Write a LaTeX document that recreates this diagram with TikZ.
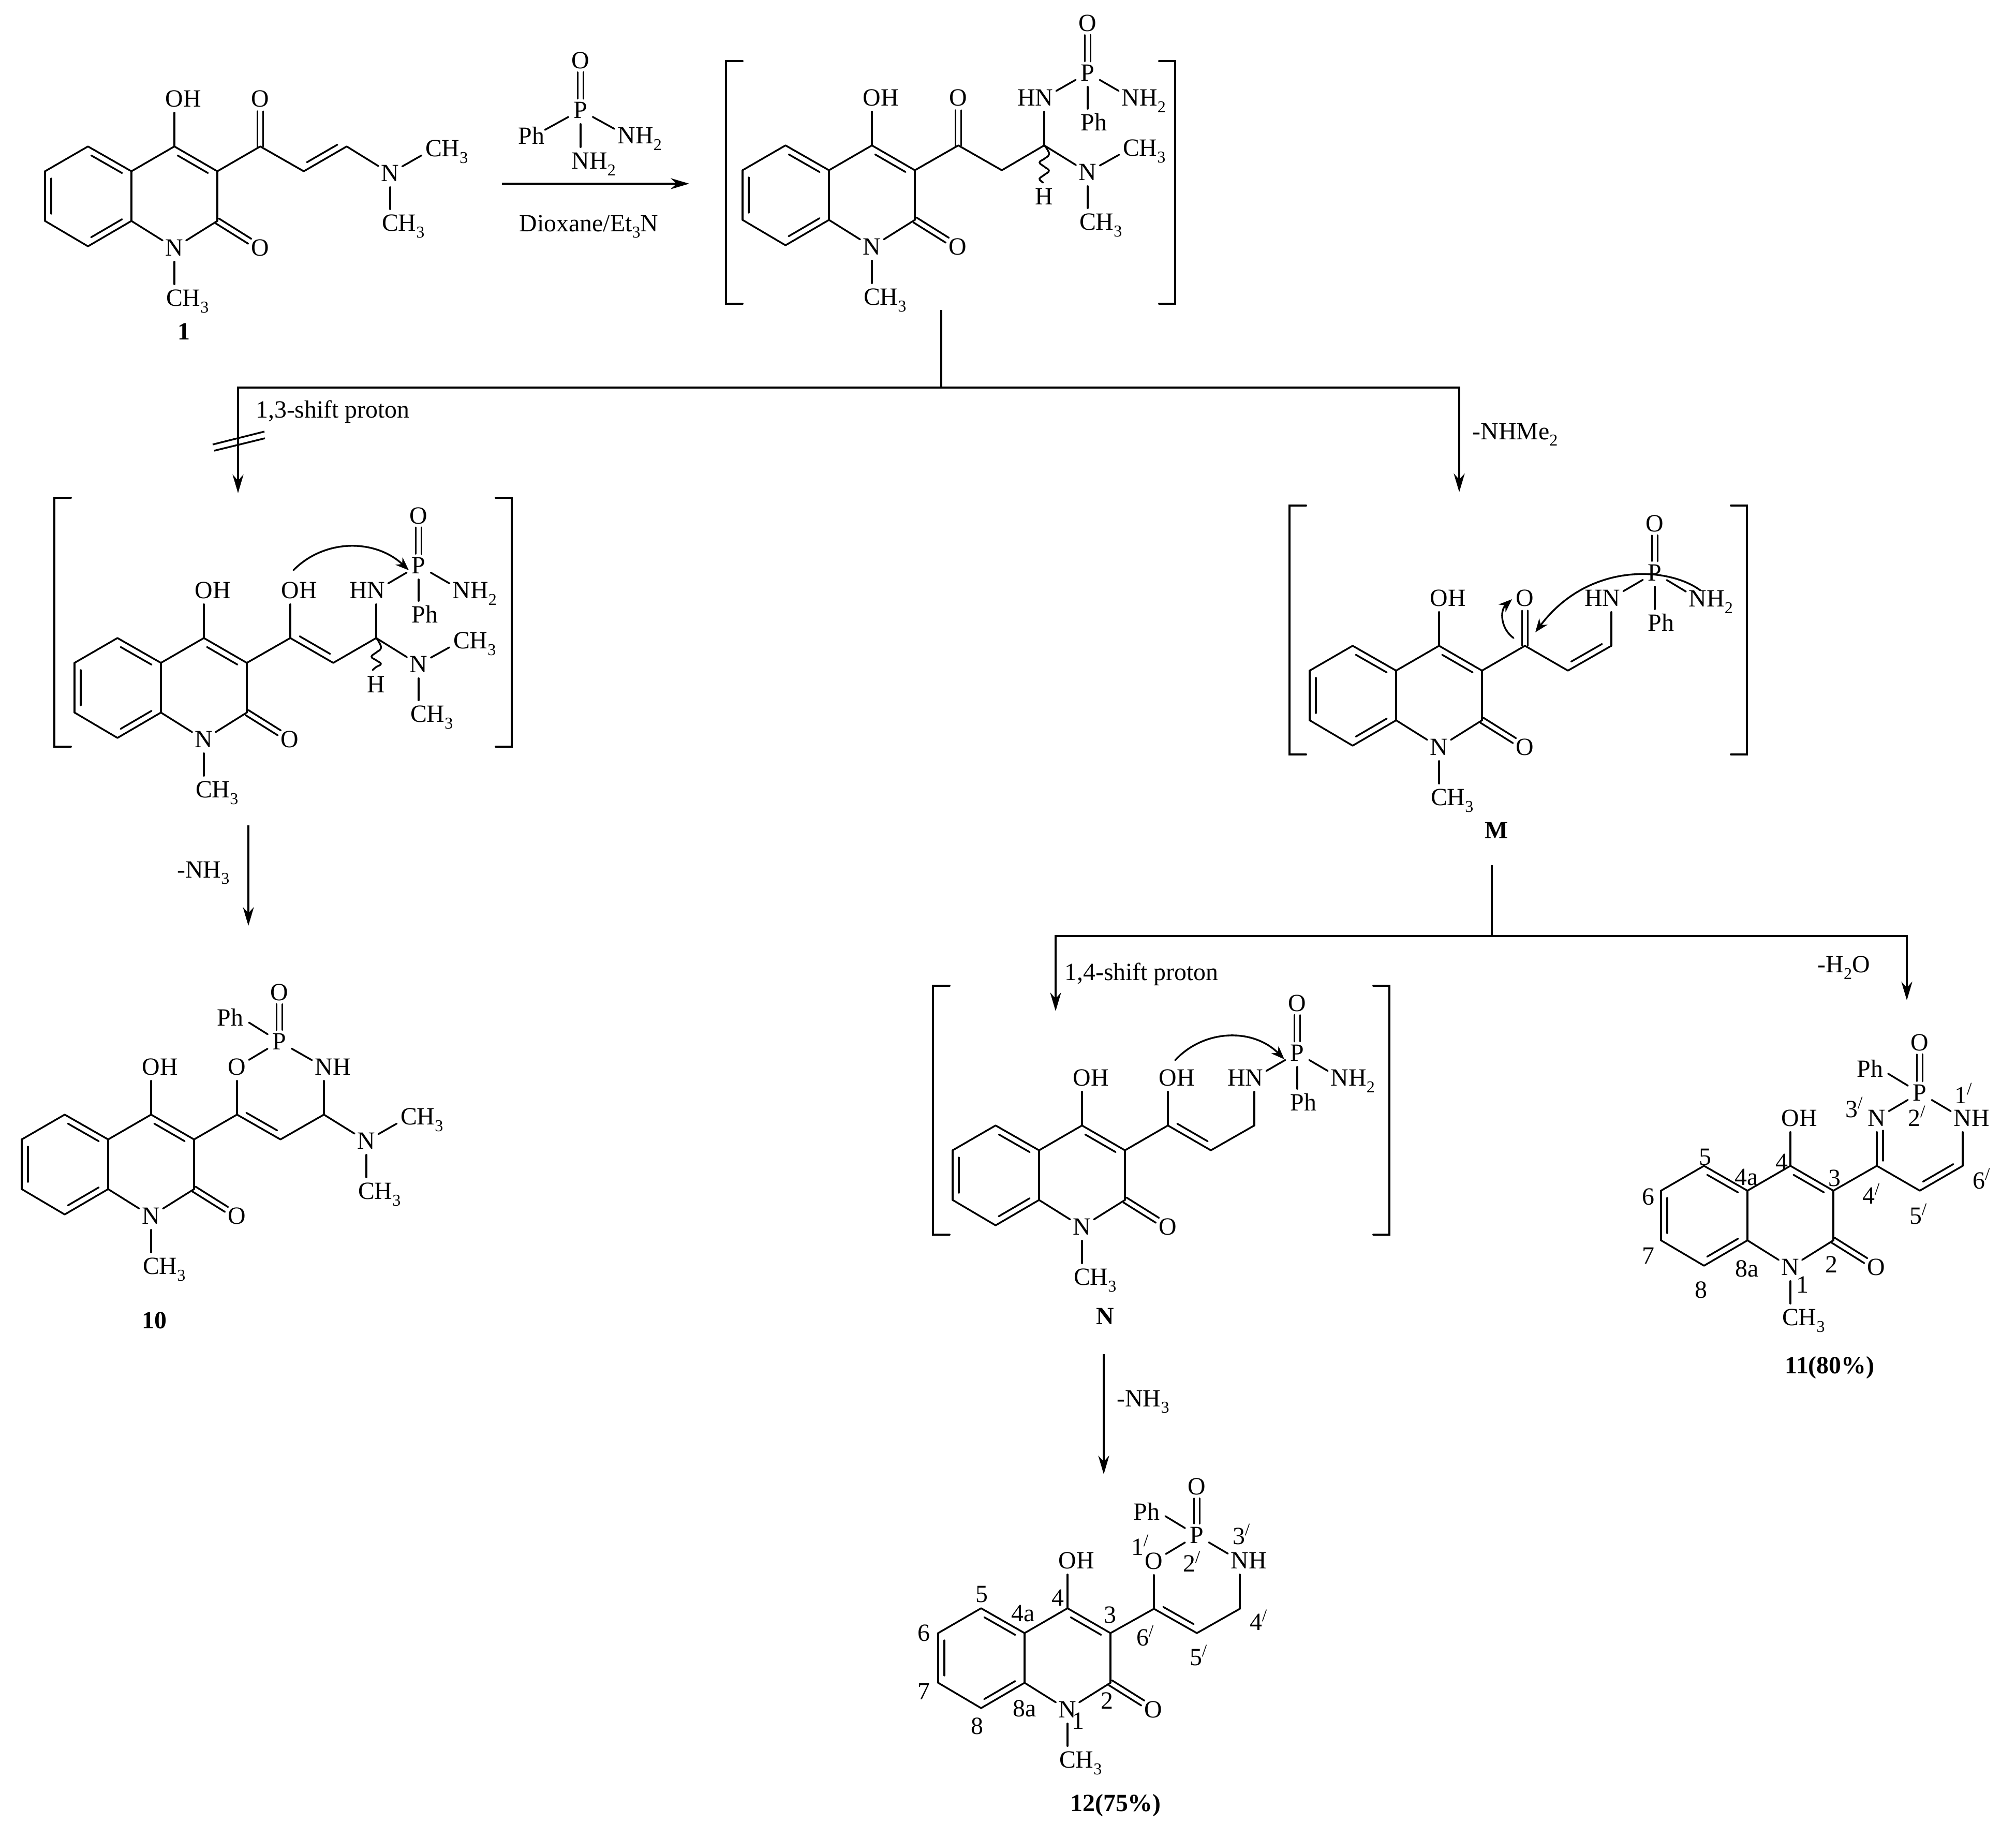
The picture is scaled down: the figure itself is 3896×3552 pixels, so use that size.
\documentclass[tikz,border=0pt]{standalone}
\usepackage{fontspec}
\setmainfont{Liberation Serif}
\usetikzlibrary{calc,arrows.meta}
\newcommand\lowr[1]{\raisebox{-.26em}{\fontsize{8}{8}\selectfont #1}}
\newcommand\lab[3]{\vphantom{N}\smash{\hbox to 0pt{\hss\llap{#1}#2\rlap{#3}\hss}}}
\newcommand\atm[5]{\node[atom] (#1) at (#2) {\lab{#3}{#4}{#5}};}
\newcommand\num[3]{\node[lbl] (#1) at (#2) {\lab{}{#3}{}};}
\newcommand\prm[3]{\node[lbl] (#1) at (#2) {\lab{}{#3}{\raisebox{.36em}{\fontsize{8.5}{8.5}\selectfont /}}};}
\newcommand\bd[2]{\draw[bond] (#1) -- (#2);}
\newcommand\dbl[2]{\draw[bond] (#1) -- (#2);\draw[bond,shorten <=3.5pt,shorten >=3.5pt] ($(#1)!3pt!90:(#2)$) -- ($(#2)!3pt!-90:(#1)$);}
\newcommand\dbn[2]{\draw[bond] (#1) -- (#2);\draw[bond,shorten <=6pt,shorten >=2.5pt] ($(#1)!3pt!90:(#2)$) -- ($(#2)!3pt!-90:(#1)$);}
\newcommand\dbc[4]{\draw[bond,shorten <=#3,shorten >=#4] ($(#1)!1.4pt!90:(#2)$) -- ($(#2)!1.4pt!-90:(#1)$);\draw[bond,shorten <=#3,shorten >=#4] ($(#1)!1.4pt!-90:(#2)$) -- ($(#2)!1.4pt!90:(#1)$);}
\newcommand\brk[4]{% left x, right x, top y, bottom y
  \draw[brack] (#1+32,#3) -- (#1,#3) -- (#1,#4) -- (#1+32,#4);
  \draw[brack] (#2-31,#3) -- (#2,#3) -- (#2,#4) -- (#2-31,#4);}
\newcommand\core{%
  \coordinate (c4a) at (0,0);\coordinate (c5) at (-84,-48);\coordinate (c6) at (-167,0);
  \coordinate (c7) at (-167,96);\coordinate (c8) at (-84,145);\coordinate (c8a) at (0,96);
  \coordinate (c4) at (83,-48);\coordinate (c3) at (166,0);\coordinate (c2) at (166,96);
  \atm{n1}{83,148}{}{N}{}
  \atm{o4}{83,-140}{}{O}{H}
  \atm{o2}{249,148}{}{O}{}
  \atm{me}{83,245}{}{C}{H\lowr{3}}
  \dbl{c4a}{c5}\bd{c5}{c6}\dbl{c6}{c7}\bd{c7}{c8}\dbl{c8}{c8a}\bd{c8a}{c4a}
  \bd{c4a}{c4}\dbl{c3}{c4}\bd{c3}{c2}\bd{c2}{n1}\bd{c8a}{n1}\bd{n1}{me}\bd{c4}{o4}
  \dbc{c2}{o2}{0pt}{6pt}}
\tikzset{
  x=.25pt,y=-.25pt,
  every node/.style={font=\fontsize{11.95}{13}\selectfont},
  atom/.style={circle,inner sep=0pt,minimum size=13pt},
  lbl/.style={inner sep=0pt},
  bold label/.style={inner sep=0pt,font=\fontsize{11.95}{13}\selectfont\bfseries},
  bond/.style={line width=.85pt,line cap=round},
  brack/.style={line width=.95pt,line cap=round,line join=miter},
  plain/.style={line width=.85pt},
  arr/.style={line width=.85pt,-{Stealth[length=9pt,width=5.3pt]}},
  curv/.style={line width=.85pt,line cap=round,-{Stealth[length=6.5pt,width=5pt]}},
}
\begin{document}
\begin{tikzpicture}
\useasboundingbox (0,0) rectangle (3896,3552);
% ---- molecule 1
\begin{scope}[shift={(254,331)},name prefix=a-]
  \core
  \coordinate (k) at (249,-48);\coordinate (v1) at (333,0);\coordinate (v2) at (416,-48);
  \atm{ok}{249,-140}{}{O}{}
  \atm{nn}{500,4}{}{N}{}
  \atm{mu}{584,-44}{}{C}{H\lowr{3}}
  \atm{ml}{500,100}{}{C}{H\lowr{3}}
  \bd{c3}{k}\dbc{k}{ok}{0pt}{6pt}\bd{k}{v1}\dbl{v1}{v2}\bd{v2}{nn}\bd{nn}{mu}\bd{nn}{ml}
\end{scope}
\node[bold label] (l1) at (355,641) {1};
% ---- reagent
\begin{scope}[name prefix=r-]
  \atm{p}{1122,213}{}{P}{}
  \atm{o}{1122,117}{}{O}{}
  \atm{n1}{1211,262}{}{N}{H\lowr{2}}
  \atm{n2}{1122,311}{}{N}{H\lowr{2}}
  \node[lbl] (ph) at (1027,262) {Ph};
  \coordinate (phe) at (1053,251);
  \bd{p}{phe}\bd{p}{n1}\bd{p}{n2}\dbc{p}{o}{5.6pt}{5.6pt}
\end{scope}
\coordinate (ra) at (970,355);\coordinate (rb) at (1332,355);
\draw[arr] (ra) -- (rb);
\node[lbl] (diox) at (1138,438) {Dioxane/Et\lowr{3}N};
% ---- intermediate 2
\brk{1403}{2271}{118}{587}
\begin{scope}[shift={(1602,329)},name prefix=b-]
  \core
  \coordinate (k) at (250,-48);\coordinate (v1) at (334,0);\coordinate (v2) at (416,-48);
  \atm{ok}{250,-140}{}{O}{}
  \atm{hn}{416,-140}{H}{N}{}
  \atm{p}{500,-188}{}{P}{}
  \atm{op}{500,-284}{}{O}{}
  \atm{nh}{583,-140}{}{N}{H\lowr{2}}
  \atm{ph}{500,-92}{}{P}{h}
  \atm{nn}{500,4}{}{N}{}
  \atm{hh}{416,51}{}{H}{}
  \atm{mu}{584,-43}{}{C}{H\lowr{3}}
  \atm{ml}{500,100}{}{C}{H\lowr{3}}
  \bd{c3}{k}\dbc{k}{ok}{0pt}{6pt}\bd{k}{v1}\bd{v1}{v2}\bd{v2}{hn}\bd{hn}{p}\dbc{p}{op}{5.6pt}{5.6pt}
  \bd{p}{nh}\bd{p}{ph}\bd{v2}{nn}\bd{nn}{mu}\bd{nn}{ml}
  \draw[bond,shift={(v2)}] plot[smooth,tension=.8] coordinates {(0,0)(6,8)(9,18)(0,26)(-9,33)(0,41)(9,49)(0,57)(-9,64)(-6,69)(-2,72)};
\end{scope}
% ---- branch 1
\coordinate (t1) at (1819,599);\coordinate (t2) at (1819,749);
\coordinate (bl) at (460,749);\coordinate (br) at (2820,749);
\coordinate (blt) at (460,953);\coordinate (brt) at (2820,951);
\draw[plain] (t1) -- (t2);
\draw[arr] (t2) -- (bl) -- (blt);
\draw[arr] (t2) -- (br) -- (brt);
\coordinate (s1a) at (411,859);\coordinate (s1b) at (511,834);
\coordinate (s2a) at (414,871);\coordinate (s2b) at (512,847);
\draw[plain] (s1a) -- (s1b);\draw[plain] (s2a) -- (s2b);
\node[lbl] (sh13) at (643,796) {1,3-shift proton};
\node[lbl] (nhme) at (2928,840) {-NHMe\lowr{2}};
% ---- intermediate 3
\brk{105}{989}{962}{1443}
\begin{scope}[shift={(311,1281)},name prefix=c-]
  \core
  \coordinate (k) at (250,-48);\coordinate (v1) at (333,0);\coordinate (v2) at (416,-48);
  \atm{ok}{250,-140}{}{O}{H}
  \atm{hn}{416,-140}{H}{N}{}
  \atm{p}{498,-188}{}{P}{}
  \atm{op}{498,-284}{}{O}{}
  \atm{nh}{581,-140}{}{N}{H\lowr{2}}
  \atm{ph}{498,-93}{}{P}{h}
  \atm{nn}{498,3}{}{N}{}
  \atm{hh}{416,42}{}{H}{}
  \atm{mu}{581,-43}{}{C}{H\lowr{3}}
  \atm{ml}{498,99}{}{C}{H\lowr{3}}
  \bd{c3}{k}\bd{k}{ok}\dbl{k}{v1}\bd{v1}{v2}\bd{v2}{hn}\bd{hn}{p}\dbc{p}{op}{5.6pt}{5.6pt}
  \bd{p}{nh}\bd{p}{ph}\bd{v2}{nn}\bd{nn}{mu}\bd{nn}{ml}
  \draw[bond,shift={(v2)}] plot[smooth,tension=.8] coordinates {(0,0)(6,9)(9,20)(0,28)(-9,36)(0,43)(9,50)(0,56)(-7,62)};
\end{scope}
\coordinate (ca1) at (567,1102);\coordinate (ca2) at (790,1102);
\draw[curv] (ca1) .. controls (627,1041) and (725,1041) .. (ca2);
\coordinate (d1) at (480,1595);\coordinate (d2) at (480,1789);
\draw[arr] (d1) -- (d2);
\node[lbl] (nh3a) at (393,1687) {-NH\lowr{3}};
% ---- molecule 10
\begin{scope}[shift={(209,2202)},name prefix=d-]
  \core
  \coordinate (k) at (249,-48);\coordinate (v1) at (333,0);\coordinate (v2) at (417,-48);
  \atm{or}{249,-140}{}{O}{}
  \atm{p}{331,-189}{}{P}{}
  \atm{op}{331,-284}{}{O}{}
  \atm{nr}{417,-140}{}{N}{H}
  \atm{nn}{499,3}{}{N}{}
  \atm{mu}{581,-44}{}{C}{H\lowr{3}}
  \atm{ml}{499,100}{}{C}{H\lowr{3}}
  \node[lbl] (ph) at (236,-236) {Ph};
  \coordinate (phe) at (272,-226);
  \bd{c3}{k}\bd{k}{or}\dbl{k}{v1}\bd{v1}{v2}\bd{v2}{nr}\bd{nr}{p}\bd{or}{p}\bd{p}{phe}\dbc{p}{op}{5.6pt}{5.6pt}
  \bd{v2}{nn}\bd{nn}{mu}\bd{nn}{ml}
\end{scope}
\node[bold label] (l10) at (298,2552) {10};
% ---- intermediate M
\brk{2492}{3376}{977}{1458}
\begin{scope}[shift={(2698,1296)},name prefix=e-]
  \core
  \coordinate (k) at (249,-48);\coordinate (v1) at (332,0);\coordinate (v2) at (416,-48);
  \atm{ok}{249,-140}{}{O}{}
  \atm{hn}{416,-140}{H}{N}{}
  \atm{p}{500,-189}{}{P}{}
  \atm{op}{500,-284}{}{O}{}
  \atm{nh}{583,-139}{}{N}{H\lowr{2}}
  \atm{ph}{500,-92}{}{P}{h}
  \bd{c3}{k}\dbc{k}{ok}{0pt}{6pt}\bd{k}{v1}\dbl{v1}{v2}\bd{v2}{hn}\bd{hn}{p}\dbc{p}{op}{5.6pt}{5.6pt}
  \bd{p}{nh}\bd{p}{ph}
\end{scope}
\coordinate (ma1) at (3286,1141);\coordinate (ma2) at (2967,1222);
\draw[curv] (ma1) .. controls (3225,1095) and (3070,1085) .. (ma2);
\coordinate (mb1) at (2925,1233);\coordinate (mb2) at (2922,1158);
\draw[curv] (mb1) .. controls (2900,1215) and (2898,1180) .. (mb2);
\node[bold label] (lM) at (2892,1605) {M};
% ---- branch 2
\coordinate (u1) at (2883,1672);\coordinate (u2) at (2883,1809);
\coordinate (ul) at (2040,1809);\coordinate (ur) at (3685,1809);
\coordinate (ult) at (2040,1954);\coordinate (urt) at (3685,1933);
\draw[plain] (u1) -- (u2);
\draw[arr] (u2) -- (ul) -- (ult);
\draw[arr] (u2) -- (ur) -- (urt);
\node[lbl] (sh14) at (2206,1883) {1,4-shift proton};
\node[lbl] (h2o) at (3563,1870) {-H\lowr{2}O};
% ---- intermediate N
\brk{1803}{2685}{1905}{2386}
\begin{scope}[shift={(2008,2223)},name prefix=f-]
  \core
  \coordinate (k) at (249,-48);\coordinate (v1) at (332,0);\coordinate (v2) at (416,-48);
  \atm{ok}{249,-140}{}{O}{H}
  \atm{hn}{416,-140}{H}{N}{}
  \atm{p}{499,-188}{}{P}{}
  \atm{op}{499,-284}{}{O}{}
  \atm{nh}{581,-140}{}{N}{H\lowr{2}}
  \atm{ph}{499,-92}{}{P}{h}
  \bd{c3}{k}\bd{k}{ok}\dbl{k}{v1}\bd{v1}{v2}\bd{v2}{hn}\bd{hn}{p}\dbc{p}{op}{5.6pt}{5.6pt}
  \bd{p}{nh}\bd{p}{ph}
\end{scope}
\coordinate (na1) at (2271,2049);\coordinate (na2) at (2482,2047);
\draw[curv] (na1) .. controls (2325,1990) and (2420,1985) .. (na2);
\node[bold label] (lN) at (2136,2544) {N};
\coordinate (g1) at (2133,2617);\coordinate (g2) at (2133,2849);
\draw[arr] (g1) -- (g2);
\node[lbl] (nh3b) at (2209,2709) {-NH\lowr{3}};
% ---- molecule 11
\begin{scope}[shift={(3377,2301)},name prefix=g-]
  \core
  \coordinate (k) at (250,-48);\coordinate (v1) at (333,0);\coordinate (v2) at (416,-48);
  \atm{nr}{250,-140}{}{N}{}
  \atm{p}{333,-189}{}{P}{}
  \atm{op}{333,-286}{}{O}{}
  \atm{nb}{416,-140}{}{N}{H}
  \node[lbl] (ph) at (237,-236) {Ph};
  \coordinate (phe) at (272,-226);
  \bd{c3}{k}\dbn{nr}{k}\bd{k}{v1}\dbl{v1}{v2}\bd{v2}{nb}\bd{nb}{p}\bd{nr}{p}\bd{p}{phe}\dbc{p}{op}{5.6pt}{5.6pt}
  \num{x5}{-82,-65}{5}\num{x6}{-192,12}{6}\num{x7}{-192,126}{7}\num{x8}{-90,192}{8}
  \num{x4a}{-2,-26}{4a}\num{x4}{66,-55}{4}\num{x3}{168,-24}{3}\num{x8a}{-1,151}{8a}
  \num{x1}{106,182}{1}\num{x2}{162,143}{2}
  \prm{y1}{412,-184}{1}\prm{y2}{322,-140}{2}\prm{y3}{201,-157}{3}
  \prm{y4}{234,10}{4}\prm{y5}{325,49}{5}\prm{y6}{447,-19}{6}
\end{scope}
\node[bold label] (l11) at (3536,2643) {11(80\%)};
% ---- molecule 12
\begin{scope}[shift={(1980,3156)},name prefix=h-]
  \core
  \coordinate (k) at (250,-47);\coordinate (v1) at (333,0);\coordinate (v2) at (416,-47);
  \atm{or}{250,-139}{}{O}{}
  \atm{p}{333,-189}{}{P}{}
  \atm{op}{333,-283}{}{O}{}
  \atm{nb}{416,-140}{}{N}{H}
  \node[lbl] (ph) at (236,-235) {Ph};
  \coordinate (phe) at (272,-226);
  \bd{c3}{k}\bd{k}{or}\dbl{k}{v1}\bd{v1}{v2}\bd{v2}{nb}\bd{nb}{p}\bd{or}{p}\bd{p}{phe}\dbc{p}{op}{5.6pt}{5.6pt}
  \num{x5}{-83,-75}{5}\num{x6}{-195,0}{6}\num{x7}{-195,113}{7}\num{x8}{-92,180}{8}
  \num{x4a}{-3,-38}{4a}\num{x4}{64,-68}{4}\num{x3}{165,-35}{3}\num{x8a}{0,146}{8a}
  \num{x2}{159,131}{2}\num{x1}{103,170}{1}
  \prm{y1}{218,-166}{1}\prm{y2}{318,-134}{2}\prm{y3}{414,-187}{3}
  \prm{y4}{447,-21}{4}\prm{y5}{331,47}{5}\prm{y6}{228,9}{6}
\end{scope}
\node[bold label] (l12) at (2156,3489) {12(75\%)};
\end{tikzpicture}
\end{document}
